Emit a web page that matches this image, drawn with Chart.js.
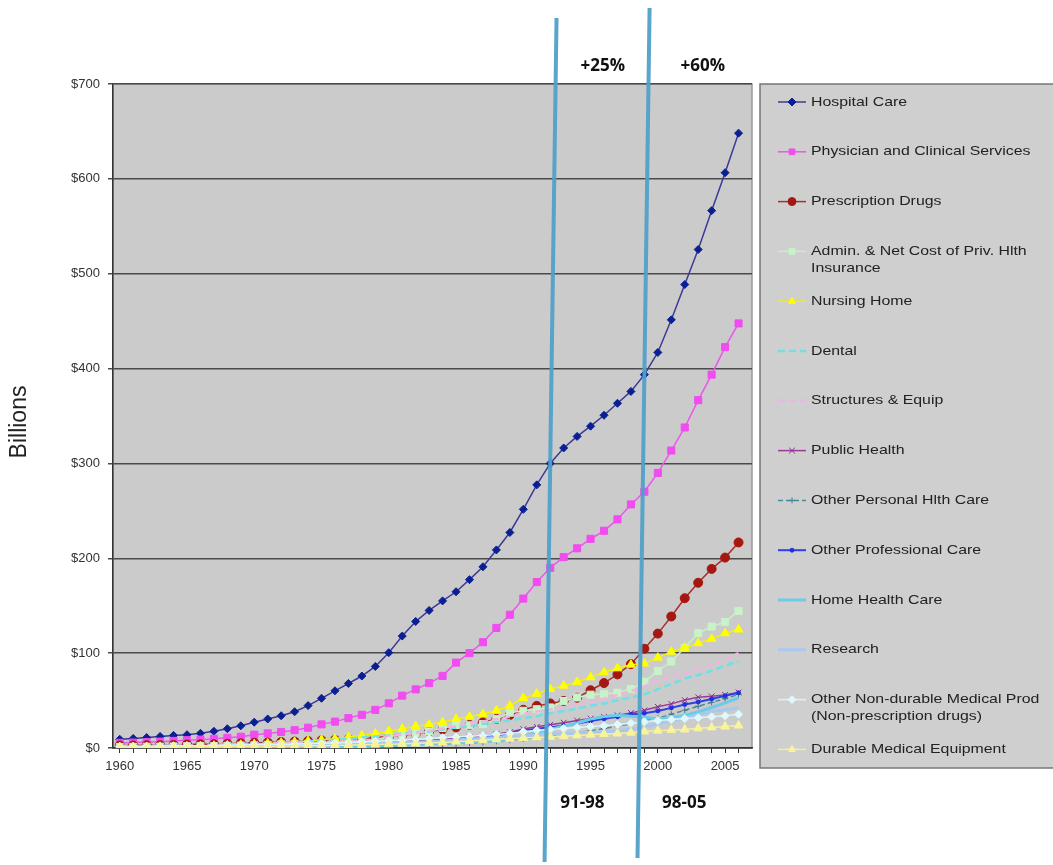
<!DOCTYPE html>
<html>
<head>
<meta charset="utf-8">
<script src="https://cdn.jsdelivr.net/npm/chart.js@4/dist/chart.umd.min.js"></script>
<style>
html, body { margin: 0; padding: 0; background: #fff; }
#wrap { width: 1053px; height: 865px; position: relative; }
</style>
</head>
<body>
<div id="wrap"><canvas id="c" width="1053" height="865"></canvas></div>
<script>
// years on the x axis
const years = [1960, 1961, 1962, 1963, 1964, 1965, 1966, 1967, 1968, 1969,
    1970, 1971, 1972, 1973, 1974, 1975, 1976, 1977, 1978, 1979,
    1980, 1981, 1982, 1983, 1984, 1985, 1986, 1987, 1988, 1989,
    1990, 1991, 1992, 1993, 1994, 1995, 1996, 1997, 1998, 1999,
    2000, 2001, 2002, 2003, 2004, 2005, 2006];

// spending in billions of dollars, one value per year
const hospitalCare = [9.2, 10.1, 11.0, 12.2, 13.3, 14.0, 15.5, 17.6, 20.3, 23.4,
    27.2, 30.6, 34.0, 38.2, 44.7, 52.4, 60.3, 68.0, 75.9, 86.0,
    100.5, 118.0, 133.4, 145.0, 155.1, 164.7, 177.5, 191.0, 208.8, 227.2,
    251.6, 277.4, 300.0, 316.3, 328.5, 339.3, 350.8, 363.4, 375.9, 393.6,
    417.0, 451.4, 488.6, 525.5, 566.5, 606.5, 648.2];
const physician = [5.4, 5.7, 6.2, 6.7, 7.5, 8.2, 8.8, 9.7, 10.7, 11.9,
    14.0, 15.4, 16.9, 18.8, 21.4, 24.9, 27.8, 31.5, 35.0, 40.2,
    47.1, 55.2, 61.8, 68.4, 76.0, 90.0, 100.0, 111.5, 126.6, 140.5,
    157.5, 174.9, 190.0, 201.2, 210.5, 220.5, 229.0, 241.0, 256.8, 270.2,
    290.0, 313.6, 337.9, 366.7, 393.6, 422.6, 447.6];
const rxDrugs = [2.7, 2.7, 2.9, 3.0, 3.2, 3.7, 3.9, 4.0, 4.4, 4.9,
    5.5, 5.9, 6.3, 6.8, 7.4, 8.1, 8.7, 9.2, 10.0, 11.0,
    12.0, 13.4, 15.0, 17.3, 19.6, 21.8, 24.3, 26.9, 30.6, 34.8,
    40.3, 44.4, 47.0, 49.6, 53.0, 60.9, 68.5, 77.6, 88.4, 104.6,
    120.6, 138.6, 157.9, 174.2, 188.8, 200.7, 216.7];
const adminCost = [1.1, 1.2, 1.3, 1.4, 1.6, 1.9, 2.1, 2.0, 2.3, 2.6,
    2.8, 3.3, 3.9, 4.3, 4.4, 4.0, 5.6, 6.9, 7.3, 8.5,
    12.1, 13.9, 15.8, 17.4, 21.1, 24.2, 23.9, 25.2, 30.4, 37.2,
    39.2, 40.9, 42.7, 49.5, 53.3, 56.2, 57.0, 58.2, 62.1, 69.8,
    81.2, 91.2, 105.6, 121.0, 128.0, 132.8, 144.5];
const nursingHome = [0.8, 0.9, 1.0, 1.2, 1.4, 1.5, 1.8, 2.3, 2.8, 3.4,
    4.2, 4.8, 5.6, 6.4, 7.4, 8.7, 10.0, 11.5, 13.2, 15.2,
    17.6, 20.3, 22.9, 24.9, 27.3, 30.7, 33.1, 35.8, 39.6, 44.6,
    52.7, 57.2, 62.2, 65.7, 69.6, 74.6, 79.9, 84.0, 87.8, 89.0,
    95.3, 101.6, 105.6, 110.5, 115.1, 121.0, 124.9];
const dental = [2.0, 2.1, 2.3, 2.4, 2.7, 2.8, 3.0, 3.4, 3.7, 4.2,
    4.7, 5.0, 5.5, 6.1, 6.8, 8.0, 8.8, 9.9, 11.0, 12.0,
    13.3, 15.1, 16.6, 17.5, 19.4, 21.7, 23.3, 25.3, 27.3, 29.4,
    31.5, 33.3, 37.0, 38.9, 41.5, 44.5, 46.8, 50.2, 53.2, 56.4,
    62.0, 67.5, 73.3, 76.9, 81.5, 86.6, 91.5];
const structures = [1.6, 1.7, 1.9, 2.1, 2.3, 2.4, 2.8, 3.2, 3.5, 3.9,
    4.6, 5.0, 5.3, 5.6, 6.0, 6.4, 6.7, 7.0, 7.7, 8.7,
    12.5, 14.0, 16.0, 18.0, 20.5, 23.0, 25.5, 28.0, 30.5, 33.0,
    36.0, 38.5, 40.5, 43.0, 45.5, 48.5, 52.0, 56.0, 60.0, 65.0,
    71.0, 75.0, 79.0, 83.0, 88.0, 94.0, 100.0];
const publicHealth = [0.4, 0.4, 0.5, 0.5, 0.6, 0.6, 0.7, 0.8, 1.0, 1.2,
    1.4, 1.6, 1.9, 2.3, 2.6, 3.0, 3.5, 4.0, 4.6, 5.4,
    6.4, 7.0, 7.4, 8.0, 9.2, 10.4, 11.5, 13.0, 14.5, 16.8,
    20.0, 22.3, 24.5, 26.7, 28.9, 31.0, 32.9, 34.5, 37.0, 39.7,
    43.4, 46.5, 50.5, 53.5, 54.5, 56.0, 58.5];
const otherPersonal = [0.7, 0.7, 0.7, 0.8, 0.8, 0.8, 0.9, 1.0, 1.1, 1.2,
    1.3, 1.4, 1.5, 1.7, 1.8, 2.0, 2.2, 2.4, 2.7, 3.0,
    3.3, 3.6, 3.8, 4.0, 4.2, 4.4, 5.2, 6.0, 7.1, 8.3,
    9.6, 11.2, 12.7, 14.3, 16.0, 18.0, 20.5, 23.1, 25.5, 28.5,
    31.5, 35.6, 39.8, 44.0, 48.1, 52.0, 56.5];
const otherProfessional = [0.4, 0.4, 0.5, 0.5, 0.6, 0.6, 0.6, 0.6, 0.7, 0.7,
    0.7, 0.8, 0.9, 1.1, 1.3, 1.6, 2.0, 2.4, 2.8, 3.2,
    3.6, 4.3, 5.0, 5.6, 6.4, 7.1, 8.9, 11.0, 13.2, 15.5,
    18.2, 20.3, 22.0, 23.5, 25.9, 28.5, 30.8, 33.0, 35.4, 36.7,
    39.1, 42.3, 45.9, 48.5, 51.6, 55.0, 58.2];
const homeHealth = [0.1, 0.1, 0.1, 0.1, 0.1, 0.1, 0.1, 0.2, 0.2, 0.2,
    0.2, 0.2, 0.3, 0.4, 0.5, 0.6, 0.8, 1.0, 1.5, 1.8,
    2.4, 3.0, 3.5, 4.1, 4.8, 5.6, 6.2, 6.6, 7.1, 8.4,
    12.6, 16.1, 19.6, 23.0, 26.3, 30.5, 33.2, 34.5, 33.6, 32.4,
    30.5, 32.2, 34.2, 38.0, 42.7, 47.5, 52.7];
const research = [0.7, 0.8, 0.9, 1.1, 1.3, 1.5, 1.7, 1.7, 1.8, 2.0,
    2.0, 2.2, 2.4, 2.5, 2.7, 3.3, 3.6, 3.8, 4.2, 4.9,
    5.4, 5.8, 6.1, 6.6, 7.3, 8.5, 9.3, 10.3, 11.1, 12.1,
    12.7, 13.8, 14.6, 15.0, 15.8, 16.7, 17.2, 18.0, 19.8, 22.1,
    25.5, 28.8, 31.7, 35.1, 38.4, 40.4, 42.5];
const nonDurable = [1.7, 1.8, 1.9, 2.0, 2.1, 2.3, 2.5, 2.7, 2.9, 3.2,
    3.4, 3.6, 3.8, 4.1, 4.5, 5.1, 5.4, 5.9, 6.4, 7.0,
    7.6, 8.3, 9.1, 10.0, 10.8, 11.6, 12.3, 13.2, 14.3, 15.3,
    17.2, 18.6, 19.6, 20.5, 21.6, 22.6, 23.5, 24.7, 26.0, 27.6,
    29.0, 30.0, 31.0, 32.0, 32.9, 33.9, 35.5];
const durableEquip = [0.7, 0.7, 0.8, 0.8, 0.9, 1.1, 1.2, 1.3, 1.4, 1.5,
    1.6, 1.7, 1.9, 2.1, 2.4, 2.5, 2.7, 3.0, 3.3, 3.7,
    3.9, 4.3, 4.7, 5.2, 5.8, 6.7, 7.3, 8.2, 9.1, 9.8,
    10.6, 11.2, 11.9, 12.5, 13.3, 14.0, 14.7, 15.3, 16.2, 17.4,
    18.3, 18.9, 19.6, 20.7, 21.7, 22.6, 23.7];

const yTicks = [0, 100, 200, 300, 400, 500, 600, 700];

// period markers drawn on top (year the line goes through + label)
const periodYears = [1992, 1999];
const periodTop = ['+25%', '+60%'];
const periodBottom = ['91-98', '98-05'];

const legendNames = [
    ['Hospital Care'],
    ['Physician and Clinical Services'],
    ['Prescription Drugs'],
    ['Admin. & Net Cost of Priv. Hlth', 'Insurance'],
    ['Nursing Home'],
    ['Dental'],
    ['Structures & Equip'],
    ['Public Health'],
    ['Other Personal Hlth Care'],
    ['Other Professional Care'],
    ['Home Health Care'],
    ['Research'],
    ['Other Non-durable Medical Prod', '(Non-prescription drugs)'],
    ['Durable Medical Equipment'],
];

let seriesCount = 0;
function series(label, values, color, fill, style, radius, width, dash) {
    const i = seriesCount++;
    return {
        label: label,
        data: years.map((yr, k) => ({ x: yr, y: values[k] })),
        borderColor: color,
        backgroundColor: fill,
        pointBackgroundColor: fill,
        pointBorderColor: fill,
        pointStyle: style,
        pointRadius: radius,
        pointBorderWidth: 1,
        borderWidth: width,
        borderDash: dash || [],
        tension: 0,
        order: -i, // later series on top, like the spreadsheet
    };
}

const datasets = [
    series('Hospital Care', hospitalCare, '#3b3b96', '#0b1f94', 'rectRot', 4, 1.5),
    series('Physician and Clinical Services', physician, '#ee55ee', '#f04cf0', 'rect', 5, 1.5),
    series('Prescription Drugs', rxDrugs, '#a8302a', '#a51812', 'circle', 4.5, 1.5),
    series('Admin. & Net Cost', adminCost, '#c8f0c8', '#c8f2c8', 'rect', 5, 1.5),
    series('Nursing Home', nursingHome, '#f2f200', '#ffff00', 'triangle', 5, 1.5),
    series('Dental', dental, '#6ee0e6', '#6ee0e6', 'circle', 0, 2.5, [7, 4]),
    series('Structures & Equip', structures, '#f0b4e0', '#f0b4e0', 'circle', 0, 2.5, [7, 4]),
    series('Public Health', publicHealth, '#9a3a9a', '#8a2a8a', 'crossRot', 4, 1.5),
    series('Other Personal Hlth Care', otherPersonal, '#4a8c9a', '#3c7c8c', 'cross', 3, 1.5, [5, 3]),
    series('Other Professional Care', otherProfessional, '#3040e8', '#2030e0', 'circle', 2, 2),
    series('Home Health Care', homeHealth, '#6ccbe8', '#6ccbe8', 'circle', 0, 3),
    series('Research', research, '#a8c8ee', '#a8c8ee', 'circle', 0, 3),
    series('Other Non-durable Medical Prod', nonDurable, '#d4f6fa', '#dff8fc', 'rectRot', 4, 1.5),
    series('Durable Medical Equipment', durableEquip, '#f4f09a', '#f8f49a', 'triangle', 5, 1.5),
];

const background = {
    id: 'background',
    beforeDraw(chart) {
        const ctx = chart.ctx;
        const a = chart.chartArea;
        ctx.save();
        ctx.fillStyle = '#ffffff';
        ctx.fillRect(0, 0, chart.width, chart.height);
        ctx.fillStyle = '#cbcbcb';
        ctx.fillRect(a.left, a.top, a.right - a.left, a.bottom - a.top);
        ctx.strokeStyle = '#9a9a9a';
        ctx.lineWidth = 1.5;
        ctx.strokeRect(a.left, a.top, a.right - a.left, a.bottom - a.top);
        ctx.restore();
    },
};

const sideLegend = {
    id: 'sideLegend',
    afterDraw(chart) {
        const ctx = chart.ctx;
        const a = chart.chartArea;
        const left = a.right + 8;
        ctx.save();
        ctx.fillStyle = '#cfcfcf';
        ctx.fillRect(left, a.top, chart.width - left + 2, 684);
        ctx.strokeStyle = '#777';
        ctx.lineWidth = 1.5;
        ctx.strokeRect(left, a.top, chart.width - left + 2, 684);
        ctx.font = '13px "Liberation Sans", Arial, sans-serif';
        ctx.textBaseline = 'middle';
        chart.data.datasets.forEach((ds, i) => {
            const y = a.top + 18 + i * 49.8;
            ctx.strokeStyle = ds.borderColor;
            ctx.lineWidth = ds.borderWidth;
            ctx.setLineDash(ds.borderDash);
            ctx.beginPath();
            ctx.moveTo(left + 18, y);
            ctx.lineTo(left + 46, y);
            ctx.stroke();
            ctx.setLineDash([]);
            if (ds.pointRadius > 0) {
                ctx.fillStyle = ds.pointBackgroundColor;
                ctx.strokeStyle = ds.pointBorderColor;
                ctx.lineWidth = 1;
                Chart.helpers.drawPoint(ctx, { pointStyle: ds.pointStyle, radius: Math.min(ds.pointRadius, 4), borderWidth: 1, rotation: 0 }, left + 32, y);
            }
            ctx.fillStyle = '#222';
            legendNames[i].forEach((t, k) => {
                // the legend lettering in the original is wide, so stretch it a bit
                ctx.save();
                ctx.translate(left + 51, y + k * 17);
                ctx.scale(1.22, 1);
                ctx.fillText(t, 0, 0);
                ctx.restore();
            });
        });
        ctx.restore();
    },
};

const periods = {
    id: 'periods',
    afterDraw(chart) {
        const ctx = chart.ctx;
        const xs = chart.scales.x;
        const ys = chart.scales.y;
        const slope = -12 / 845;
        ctx.save();
        const lineX = [];
        periodYears.forEach((yr, i) => {
            const idx = years.indexOf(yr);
            const px = xs.getPixelForValue(yr);
            const py = ys.getPixelForValue(hospitalCare[idx]);
            const at = (y) => px + slope * (y - py);
            lineX.push(at);
            const top = i === 0 ? 18 : 8;
            const bottom = i === 0 ? 862 : 858;
            ctx.strokeStyle = 'rgba(80, 160, 200, 0.95)';
            ctx.lineWidth = 4;
            ctx.beginPath();
            ctx.moveTo(at(top), top);
            ctx.lineTo(at(bottom), bottom);
            ctx.stroke();
        });
        ctx.fillStyle = '#111';
        ctx.font = 'bold 17px "Open Sans", "Liberation Sans", sans-serif';
        ctx.textAlign = 'center';
        ctx.textBaseline = 'middle';
        periodTop.forEach((t, i) => {
            ctx.fillText(t, lineX[i](66) + (i === 0 ? 47 : 54), 66);
        });
        periodBottom.forEach((t, i) => {
            ctx.fillText(t, lineX[i](803) + (i === 0 ? 37 : 46), 803);
        });
        ctx.restore();
    },
};

const yTitle = {
    id: 'yTitle',
    afterDraw(chart) {
        const ctx = chart.ctx;
        ctx.save();
        ctx.translate(20, 422);
        ctx.rotate(-Math.PI / 2);
        ctx.fillStyle = '#222';
        ctx.font = '23px "Liberation Sans", Arial, sans-serif';
        ctx.textAlign = 'center';
        ctx.textBaseline = 'middle';
        ctx.fillText('Billions', 0, 0);
        ctx.restore();
    },
};

new Chart(document.getElementById('c'), {
    type: 'line',
    data: { datasets: datasets },
    options: {
        responsive: false,
        animation: false,
        devicePixelRatio: 1,
        layout: { padding: { top: 84, right: 301, left: 0, bottom: 0 } },
        plugins: { legend: { display: false }, tooltip: { enabled: false } },
        scales: {
            x: {
                type: 'linear',
                min: 1959.5,
                max: 2007,
                afterBuildTicks: (s) => { s.ticks = years.map((v) => ({ value: v })); },
                grid: { drawOnChartArea: false, tickLength: 5, color: '#333' },
                border: { color: '#333', width: 1.5 },
                ticks: {
                    autoSkip: false,
                    maxRotation: 0,
                    padding: 6,
                    color: '#333',
                    font: { family: '"Liberation Sans", Arial, sans-serif', size: 13 },
                    callback: (v) => (v % 5 === 0 ? String(v) : ''),
                },
                afterFit: (s) => { s.height = 117; },
            },
            y: {
                min: 0,
                max: 700,
                afterBuildTicks: (s) => { s.ticks = yTicks.map((v) => ({ value: v })); },
                grid: { color: '#4a4a4a', lineWidth: 1.5, tickLength: 5 },
                border: { color: '#333', width: 1.5 },
                ticks: {
                    padding: 8,
                    color: '#333',
                    font: { family: '"Liberation Sans", Arial, sans-serif', size: 13 },
                    callback: (v) => '$' + v,
                },
                afterFit: (s) => { s.width = 113; },
            },
        },
    },
    plugins: [background, sideLegend, periods, yTitle],
});
</script>
</body>
</html>
